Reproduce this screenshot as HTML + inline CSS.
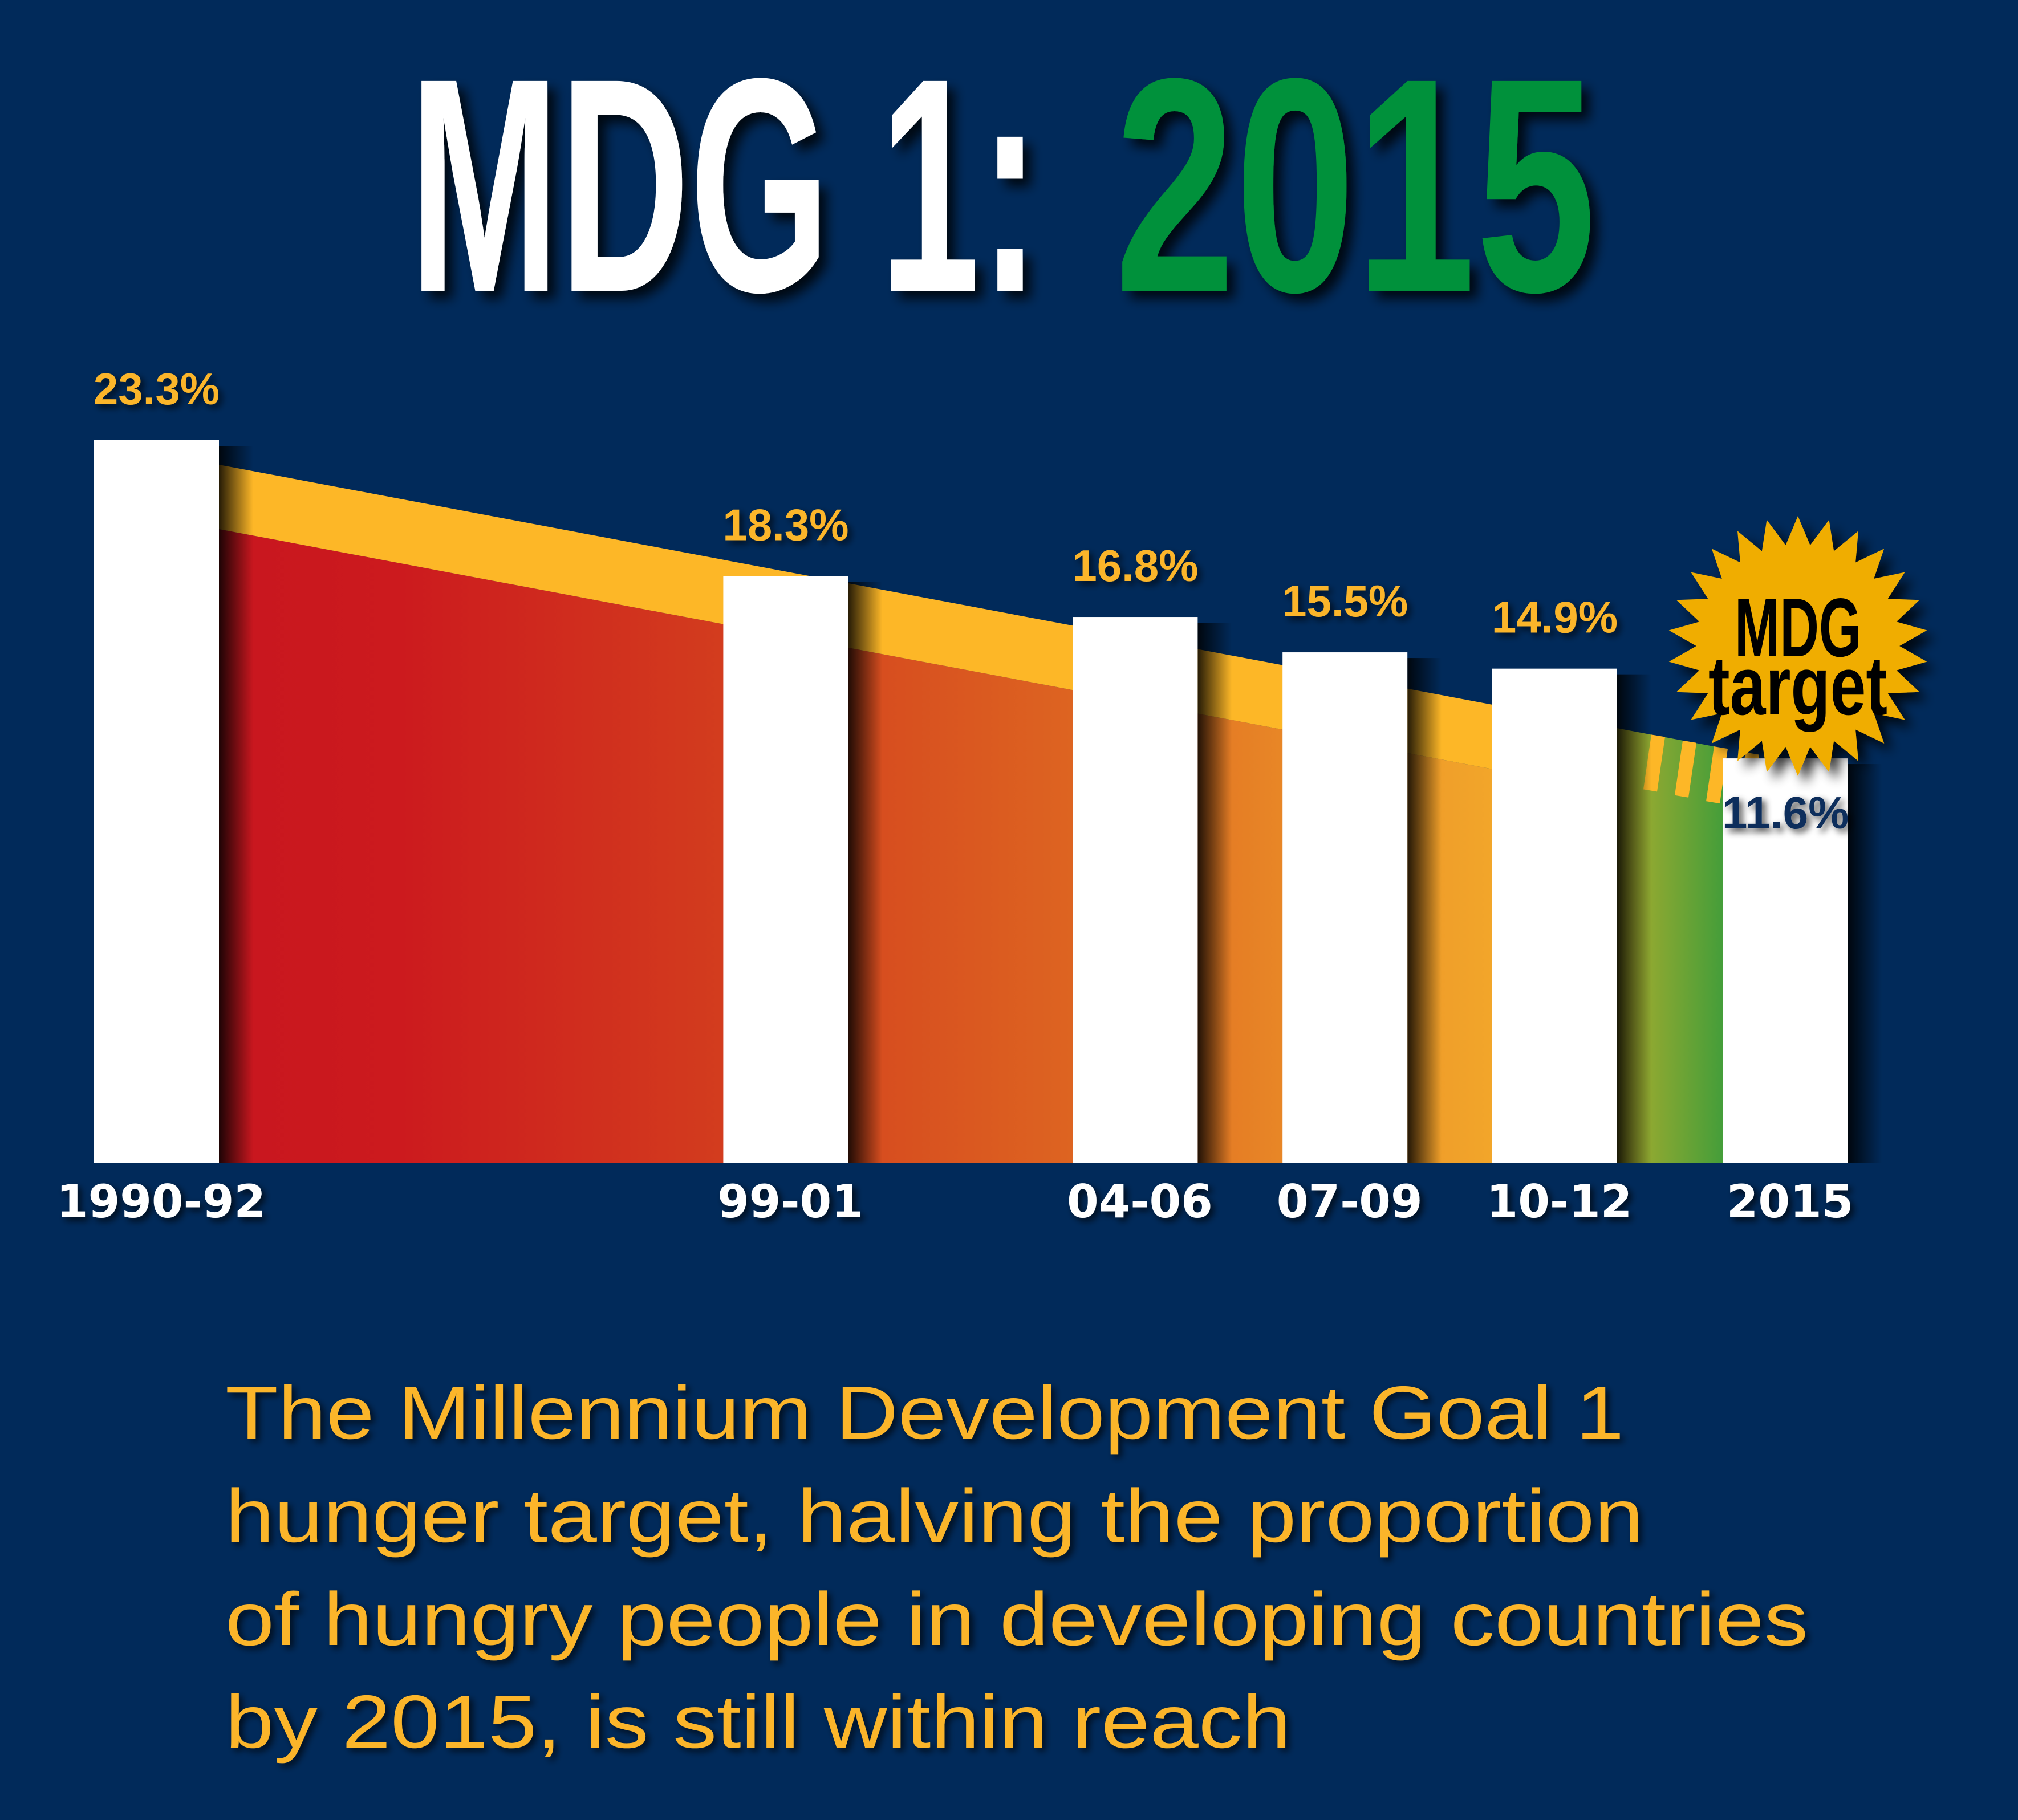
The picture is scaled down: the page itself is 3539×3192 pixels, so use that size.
<!DOCTYPE html>
<html><head><meta charset="utf-8"><style>
html,body{margin:0;padding:0;background:#012a5a;}
svg{display:block;}
</style></head><body>
<svg id="chart" xmlns="http://www.w3.org/2000/svg" width="3539" height="3192" viewBox="0 0 3539 3192">
<defs>
<linearGradient id="areaGrad" x1="383" y1="0" x2="3031" y2="0" gradientUnits="userSpaceOnUse">
<stop offset="0" stop-color="#c8161f"/>
<stop offset="0.12" stop-color="#cc1a1e"/>
<stop offset="0.4" stop-color="#d5471e"/>
<stop offset="0.6" stop-color="#df6a22"/>
<stop offset="0.75" stop-color="#ec9328"/>
<stop offset="0.88" stop-color="#f4ad2b"/>
<stop offset="0.93" stop-color="#a9ac2e"/>
<stop offset="1" stop-color="#3f9d3a"/>
</linearGradient>
<linearGradient id="shadowGrad" x1="0" y1="0" x2="1" y2="0">
<stop offset="0" stop-color="#000" stop-opacity="0.85"/>
<stop offset="1" stop-color="#000" stop-opacity="0"/>
</linearGradient>
<filter id="ds" x="-10%" y="-10%" width="130%" height="140%">
<feGaussianBlur in="SourceAlpha" stdDeviation="10"/>
<feOffset dx="14" dy="14" result="b"/>
<feComponentTransfer><feFuncA type="linear" slope="0.8"/></feComponentTransfer>
<feMerge><feMergeNode/><feMergeNode in="SourceGraphic"/></feMerge>
</filter>
<filter id="ds2" x="-10%" y="-10%" width="130%" height="140%">
<feGaussianBlur in="SourceAlpha" stdDeviation="6"/>
<feOffset dx="6" dy="6"/>
<feComponentTransfer><feFuncA type="linear" slope="0.7"/></feComponentTransfer>
<feMerge><feMergeNode/><feMergeNode in="SourceGraphic"/></feMerge>
</filter>
</defs>
<rect width="3539" height="3192" fill="#012a5a"/>

<g filter="url(#ds)" font-family="'Liberation Sans Narrow','Liberation Sans',sans-serif" font-weight="bold">
<text x="718" y="510" font-size="535" fill="#ffffff" textLength="1106" lengthAdjust="spacingAndGlyphs">MDG 1:</text>
<text x="1955" y="510" font-size="535" fill="#00913a" textLength="844" lengthAdjust="spacingAndGlyphs">2015</text>
</g>

<g id="plot"></g>

<g filter="url(#ds2)" font-family="'Liberation Sans',sans-serif" font-size="132" fill="#fbb52a">
<text x="395" y="2523" textLength="2453" lengthAdjust="spacingAndGlyphs">The Millennium Development Goal 1</text>
<text x="395" y="2704" textLength="2487" lengthAdjust="spacingAndGlyphs">hunger target, halving the proportion</text>
<text x="395" y="2885" textLength="2776" lengthAdjust="spacingAndGlyphs">of hungry people in developing countries</text>
<text x="395" y="3065" textLength="1869" lengthAdjust="spacingAndGlyphs">by 2015, is still within reach</text>
</g>
</svg>
<script>
const categories = ["1990-92","99-01","04-06","07-09","10-12","2015"];
const periodMid = [1991, 2000, 2005, 2008, 2011, 2014.3];
const values = [23.3, 18.3, 16.8, 15.5, 14.9, 11.6];
const valueLabels = ["23.3%","18.3%","16.8%","15.5%","14.9%","11.6%"];

const NS = "http://www.w3.org/2000/svg";
const plot = document.getElementById("plot");
const BASE = 2040, BW = 219;
function xScale(yr){ return 165 + (yr - 1991) * 122.6; }
function yScale(v){ return 1883.4 - 47.7 * v; }
function mk(tag, attrs){ const e = document.createElementNS(NS, tag); for (const k in attrs) e.setAttribute(k, attrs[k]); return e; }

const n = values.length;
const x0 = xScale(periodMid[0]) + BW, xN = xScale(periodMid[n-1]);
const yT0 = yScale(values[0]) + 43, yTN = yScale(values[n-1]) - 18;
function bandTop(x){ return yT0 + (yTN - yT0) * (x - x0) / (xN - x0); }
function bandBot(x){ return bandTop(x) + 113; }
const x5r = xScale(periodMid[n-2]) + BW;

// area
const area = mk("polygon", {points:
  `${x0},${bandBot(x0)} ${x5r},${bandBot(x5r)} ${x5r},${bandTop(x5r)} ${xN},${bandTop(xN)} ${xN},${BASE} ${x0},${BASE}`, fill:"url(#areaGrad)"});


plot.appendChild(area);

const band = mk("polygon", {points:`${x0},${bandTop(x0)} ${x5r},${bandTop(x5r)} ${x5r},${bandBot(x5r)} ${x0},${bandBot(x0)}`, fill:"#fdb727"});


plot.appendChild(band);

// dashed projection stripes
for (let i = 0; i < 4; i++) {
  const sx = x5r + 60 + i * 55;
  const t = bandTop(sx);
  const s = mk("polygon", {points:`${sx},${t} ${sx+24},${t+4} ${sx+10},${t+100} ${sx-14},${t+96}`, fill:"#fdb727"});
  
  
  plot.appendChild(s);
}

for (let i = 0; i < n; i++) {
  const x = xScale(periodMid[i]), y = yScale(values[i]);
  const sh = mk("rect", {x: x + BW, y: y + 10, width: 60, height: BASE - y - 10, fill:"url(#shadowGrad)"});
  
  
  plot.appendChild(sh);
  const b = mk("rect", {x: x, y: y, width: BW, height: BASE - y, fill:"#ffffff"});
  
  
  plot.appendChild(b);

  const last = i === n - 1;
  const vl = mk("text", {x: x + BW/2, y: last ? y + 123 : y - 63, "text-anchor":"middle",
    "font-family":"'Liberation Sans Narrow','Liberation Sans',sans-serif", "font-size": last ? 80 : 78, "font-weight":"bold",
    fill: last ? "#0d2e5c" : "#fbb52a", filter:"url(#ds2)"});
  vl.textContent = valueLabels[i];
  
  
  plot.appendChild(vl);

  const cl = mk("text", {x: x + BW/2 + 8, y: 2135, "text-anchor":"middle",
    "font-family":"'DejaVu Sans','Liberation Sans',sans-serif", "font-size": 80, "font-weight":"bold",
    fill:"#ffffff", filter:"url(#ds2)"});
  cl.textContent = categories[i];
  
  
  plot.appendChild(cl);
}

// starburst
const cx = 3153, cy = 1133, R = 228, r = 178, spikes = 26;
let pts = [];
for (let k = 0; k < spikes * 2; k++) {
  const a = Math.PI * k / spikes - Math.PI/2;
  const rad = k % 2 === 0 ? R : r;
  pts.push((cx + rad * Math.cos(a)).toFixed(1) + "," + (cy + rad * Math.sin(a)).toFixed(1));
}
const star = mk("polygon", {points: pts.join(" "), fill:"#f0ad00", filter:"url(#ds)"});


plot.appendChild(star);
const t1 = mk("text", {x: cx, y: 1151, "text-anchor":"middle", "font-family":"'Liberation Sans Narrow','Liberation Sans',sans-serif", "font-weight":"bold", "font-size":146, fill:"#000", textLength:"222", lengthAdjust:"spacingAndGlyphs"});
t1.textContent = "MDG";


plot.appendChild(t1);
const t2 = mk("text", {x: cx, y: 1253, "text-anchor":"middle", "font-family":"'Liberation Sans Narrow','Liberation Sans',sans-serif", "font-weight":"bold", "font-size":146, fill:"#000", textLength:"314", lengthAdjust:"spacingAndGlyphs"});
t2.textContent = "target";


plot.appendChild(t2);
</script>
</body></html>
